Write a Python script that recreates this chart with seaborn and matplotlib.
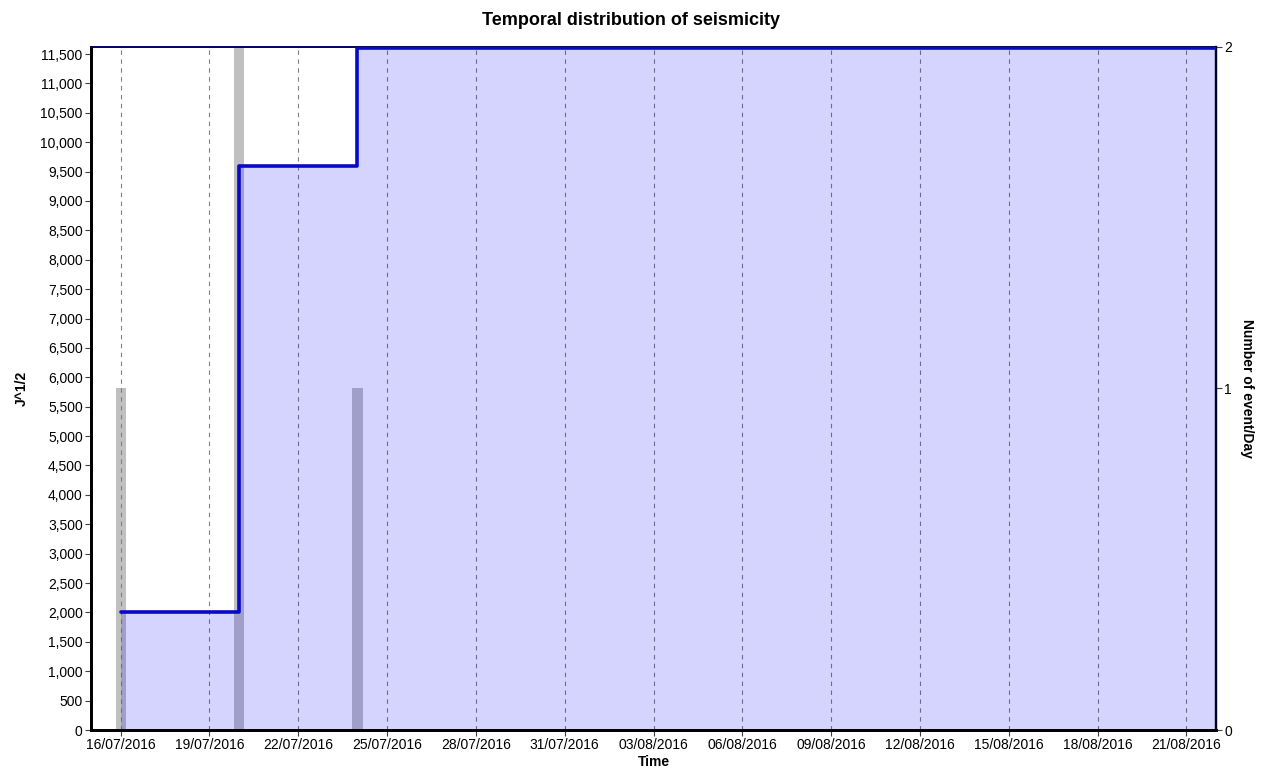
import matplotlib as mpl
mpl.use("Agg")
import matplotlib.pyplot as plt
import matplotlib.dates as mdates
import matplotlib.ticker as mticker
import numpy as np
import pandas as pd
import seaborn as sns

# data
event_days = ["2016-07-16", "2016-07-20", "2016-07-24"]
events_per_day = [1, 2, 1]
cumulative_strain = [2000, 9600, 11600]  # J^1/2
x_start, x_end = "2016-07-15", "2016-08-22"
tick_days = pd.date_range("2016-07-16", "2016-08-21", freq="3D")

sns.set_style("white")
plt.rcParams["font.family"] = ["Liberation Sans", "DejaVu Sans"]
plt.rcParams["text.color"] = "black"
plt.rcParams["axes.labelcolor"] = "black"
plt.rcParams["xtick.color"] = "black"
plt.rcParams["ytick.color"] = "black"

days = pd.to_datetime(event_days)
end = pd.Timestamp(x_end)

fig, ax = plt.subplots(figsize=(12.61, 7.79), dpi=100)
fig.subplots_adjust(left=0.0722, right=0.9643, top=0.9397, bottom=0.0629)
ax2 = ax.twinx()

# events per day on the right axis (drawn underneath the strain fill)
ax2.bar(days, events_per_day, width=0.34, color="#c0c0c0", linewidth=0, zorder=1)
ax2.set_ylim(0, 2)
ax2.set_yticks([0, 1, 2])
ax2.set_ylabel("Number of event/Day", rotation=-90, labelpad=16,
               fontsize=10, fontweight="bold")

# cumulative strain step on the left axis
ax.set_zorder(ax2.get_zorder() + 1)
ax.patch.set_visible(False)
step = pd.DataFrame({
    "time": list(days) + [end],
    "strain": cumulative_strain + [cumulative_strain[-1]],
})
ax.fill_between(step["time"], step["strain"], step="post",
                color="#0000ff", alpha=0.17, linewidth=0, zorder=1)
sns.lineplot(data=step, x="time", y="strain", ax=ax, drawstyle="steps-post",
             color="#0808c8", linewidth=2.6, zorder=3)

ax.set_xlim(pd.Timestamp(x_start), end)
ax.set_ylim(0, 11620)
ax.set_yticks(np.arange(0, 11501, 500))
ax.yaxis.set_major_formatter(mticker.FuncFormatter(lambda v, p: f"{v:,.0f}"))
ax.set_xticks(tick_days)
ax.xaxis.set_major_formatter(mdates.DateFormatter("%d/%m/%Y"))
ax.grid(axis="x", color="#808080", linestyle=(0, (4, 4)), linewidth=0.8)
ax.grid(axis="y", visible=False)

ax.set_xlabel("Time", fontsize=10, fontweight="bold", labelpad=2)
ax.set_ylabel("J^1/2", fontsize=10, fontweight="bold", labelpad=8)
fig.suptitle("Temporal distribution of seismicity", x=0.5, y=0.985,
             fontsize=13, fontweight="bold")

for a in (ax, ax2):
    a.tick_params(axis="both", labelsize=10, length=4, width=0.8,
                  color="#404040", direction="out", pad=2)
    for s in a.spines.values():
        s.set_visible(True)
ax.tick_params(left=True, bottom=True)
ax2.tick_params(right=True)
for a in (ax, ax2):
    a.spines["left"].set_color("black")
    a.spines["left"].set_linewidth(2)
    a.spines["bottom"].set_color("black")
    a.spines["bottom"].set_linewidth(2)
    a.spines["top"].set_color("#000060")
    a.spines["top"].set_linewidth(1.2)
    a.spines["right"].set_color("#000030")
    a.spines["right"].set_linewidth(1.6)

fig.savefig("out.png", dpi=100, facecolor="white")
